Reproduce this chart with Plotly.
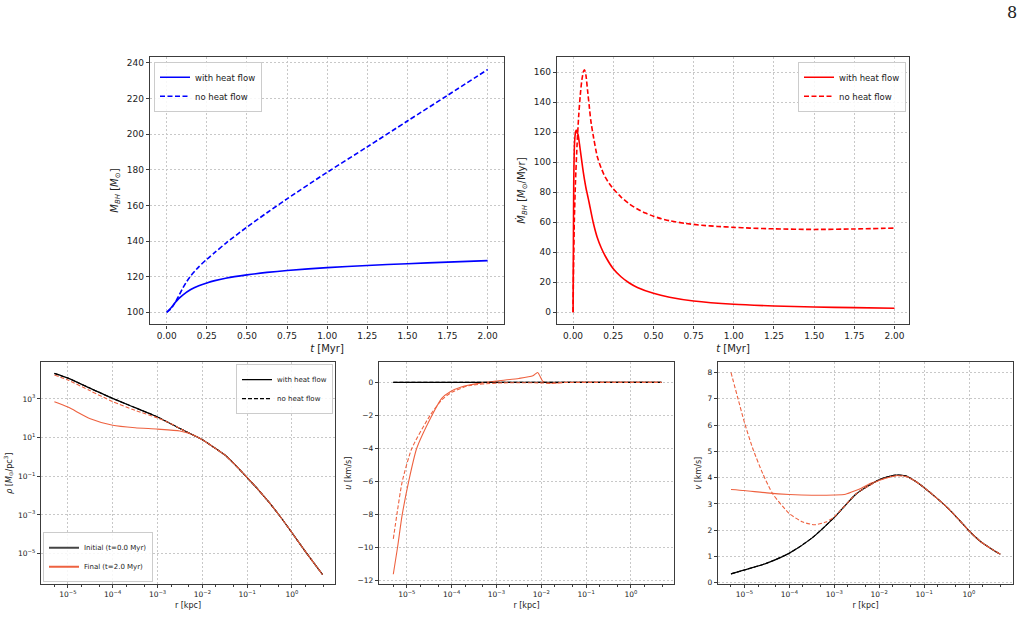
import plotly.graph_objects as go

# ---------------- data ----------------
# Top-left: black-hole mass vs time
t_m_heat = [0, 0.025, 0.05, 0.075, 0.1, 0.15, 0.2, 0.25, 0.3, 0.375, 0.5, 0.625, 0.75, 1.0, 1.25, 1.5, 1.75, 2.0]
mbh_heat = [100, 102.3, 105.2, 107.7, 109.7, 112.8, 114.9, 116.5, 117.8, 119.3, 121.0, 122.4, 123.5, 125.1,
            126.3, 127.3, 128.2, 129.0]
t_m_noheat = [0, 0.025, 0.05, 0.075, 0.1, 0.125, 0.15, 0.175, 0.2, 0.25, 0.3, 0.375, 0.5, 0.625, 0.75, 1.0,
              1.25, 1.5, 1.75, 2.0]
mbh_noheat = [100, 101.8, 105.0, 109.2, 113.5, 117.3, 120.5, 123.1, 125.5, 129.8, 133.6, 139.3, 147.8, 155.9,
              163.7, 178.6, 192.9, 207.4, 221.8, 236.3]

# Top-right: accretion rate vs time
t_md_heat = [0, 0.002, 0.004, 0.007, 0.011, 0.016, 0.021, 0.026, 0.031, 0.04, 0.05, 0.06, 0.07, 0.08, 0.09,
             0.1, 0.125, 0.15, 0.175, 0.2, 0.25, 0.3, 0.35, 0.4, 0.5, 0.6, 0.75, 1.0, 1.25, 1.5, 1.75, 2.0]
mdot_heat = [0, 45, 85, 106, 116, 120.5, 121.5, 119.5, 118.5, 112, 104, 96, 89, 83, 78,
             73, 60, 50, 43, 37.5, 29, 23.5, 19.5, 16.5, 12.6, 10.0, 7.5, 5.3, 4.2, 3.5, 3.1, 2.7]
t_md_noheat = [0, 0.003, 0.008, 0.015, 0.025, 0.035, 0.045, 0.055, 0.065, 0.072, 0.08, 0.09, 0.1, 0.11,
               0.125, 0.15, 0.175, 0.2, 0.225, 0.25, 0.3, 0.35, 0.4, 0.45, 0.5, 0.55, 0.6, 0.7, 0.8, 0.9,
               1.0, 1.1, 1.25, 1.5, 1.75, 2.0]
mdot_noheat = [0, 30, 62, 87, 112, 131, 145, 155, 160.5, 161.5, 158, 148, 138, 128,
               118, 104, 96, 90, 85.8, 82.2, 76.6, 72.2, 68.8, 66.1, 64.0, 62.3, 61.0, 59.2, 58.0, 57.2,
               56.6, 56.1, 55.6, 55.2, 55.5, 56.1]

# Bottom-left: density profiles
r_rho_init = [5.0e-6, 1e-5, 3.16e-5, 1e-4, 3.16e-4, 1e-3, 3.16e-3, 1e-2, 0.0251, 0.0316, 0.0562, 0.1,
              0.178, 0.316, 0.562, 1.0, 2.0, 4.8]
rho_init = [20900, 12000, 3550, 1070, 355, 117, 29.5, 7.76, 1.86, 1.29, 0.355, 0.0851,
            0.0200, 0.00417, 7.59e-4, 1.20e-4, 1.26e-5, 8.3e-7]
r_rho_heat = [5.0e-6, 1e-5, 3.16e-5, 1e-4, 3.16e-4, 1e-3, 3.16e-3, 6.3e-3, 1e-2, 0.0251, 0.0316, 0.0562, 0.1,
              0.178, 0.316, 0.562, 1.0, 2.0, 4.8]
rho_heat = [724, 380, 95.5, 43.7, 32.4, 27.5, 21.9, 13.8, 7.76, 1.86, 1.29, 0.355, 0.0851,
            0.0200, 0.00417, 7.59e-4, 1.20e-4, 1.26e-5, 8.3e-7]
r_rho_noheat = [5.0e-6, 1e-5, 3.16e-5, 1e-4, 3.16e-4, 1e-3, 1.78e-3, 3.16e-3, 1e-2, 0.0251, 0.0316, 0.0562, 0.1,
                0.178, 0.316, 0.562, 1.0, 2.0, 4.8]
rho_noheat = [17400, 9550, 2630, 724, 257, 105, 60.3, 29.5, 7.76, 1.86, 1.29, 0.355, 0.0851,
              0.0200, 0.00417, 7.59e-4, 1.20e-4, 1.26e-5, 8.3e-7]

# Bottom-middle: radial velocity u
r_u_init = [5.0e-6, 1e-4, 1e-2, 1.0, 4.8]
u_init = [0, 0, 0, 0, 0]
r_u_heat = [5.0e-6, 6.2e-6, 7.9e-6, 1.1e-5, 1.66e-5, 3.63e-5, 6.0e-5, 9.3e-5, 1.7e-4, 4.0e-4, 1e-3, 3.16e-3,
            6.5e-3, 8.3e-3, 1.07e-2, 1.29e-2, 2.0e-2, 3.16e-2, 1.0, 4.8]
u_heat = [-11.6, -10.0, -8.0, -6.0, -4.0, -2.0, -0.96, -0.56, -0.26, -0.06, 0.08, 0.24,
          0.40, 0.60, 0.08, -0.02, -0.03, 0, 0, 0]
r_u_noheat = [5.0e-6, 6.0e-6, 7.9e-6, 1.29e-5, 3.3e-5, 6.0e-5, 1e-4, 2.4e-4, 1e-3, 3.16e-3, 1e-2, 1.58e-2,
              3.16e-2, 1.0, 4.8]
u_noheat = [-9.46, -8.0, -6.0, -4.0, -2.0, -1.06, -0.6, -0.2, -0.04, -0.02, -0.03, -0.06,
            -0.01, 0, 0]

# Bottom-right: velocity dispersion v
r_v_init = [5.0e-6, 1e-5, 3.16e-5, 1e-4, 3.16e-4, 1e-3, 3.16e-3, 1e-2, 0.0178, 0.0251, 0.0398, 0.0631, 0.1,
            0.178, 0.316, 0.562, 1.0, 1.78, 3.16, 5.0]
v_init = [0.34, 0.49, 0.75, 1.13, 1.70, 2.49, 3.40, 3.92, 4.06, 4.10, 4.06, 3.87, 3.62,
          3.27, 2.89, 2.45, 1.98, 1.58, 1.29, 1.09]
r_v_heat = [5.0e-6, 1e-5, 3.16e-5, 1e-4, 3.16e-4, 1e-3, 1.78e-3, 3.0e-3, 4.0e-3, 6.3e-3, 1e-2, 0.0178, 0.0251,
            0.0398, 0.0631, 0.1, 0.178, 0.316, 0.562, 1.0, 1.78, 3.16, 5.0]
v_heat = [3.55, 3.51, 3.42, 3.36, 3.33, 3.34, 3.37, 3.51, 3.60, 3.78, 3.90, 4.04, 4.08,
          4.05, 3.87, 3.62, 3.27, 2.89, 2.45, 1.98, 1.58, 1.29, 1.09]
r_v_noheat = [5.0e-6, 7.1e-6, 1e-5, 1.55e-5, 2.57e-5, 4.27e-5, 1e-4, 2.0e-4, 3.63e-4, 6.46e-4, 1e-3, 3.16e-3,
              1e-2, 0.0178, 0.0251, 0.0398, 0.0631, 0.1, 0.178, 0.316, 0.562, 1.0, 1.78, 3.16, 5.0]
v_noheat = [8.0, 7.03, 6.09, 5.08, 4.14, 3.38, 2.63, 2.31, 2.21, 2.31, 2.51, 3.40,
            3.90, 4.03, 4.07, 4.04, 3.87, 3.62, 3.27, 2.89, 2.45, 1.98, 1.58, 1.29, 1.09]

log_tickvals = [1e-5, 1e-4, 1e-3, 1e-2, 1e-1, 1]
log_ticktext = ["10<sup>\u22125</sup>", "10<sup>\u22124</sup>", "10<sup>\u22123</sup>",
                "10<sup>\u22122</sup>", "10<sup>\u22121</sup>", "10<sup>0</sup>"]
rho_tickvals = [1e-5, 1e-3, 1e-1, 10, 1000]
rho_ticktext = ["10<sup>\u22125</sup>", "10<sup>\u22123</sup>", "10<sup>\u22121</sup>",
                "10<sup>1</sup>", "10<sup>3</sup>"]

# ---------------- styling ----------------
W, H = 1026, 617
FONT = "DejaVu Sans"
BLUE = "#0000ff"
RED = "#ff0000"
ORANGE = "#ee6240"
BLACK = "#000000"


def dom_x(a, b):
    return [a / W, b / W]


def dom_y(top, bottom):
    return [1 - bottom / H, 1 - top / H]


def ax_style(tick_size, **kw):
    d = dict(
        showline=True, mirror=True, linecolor="#3c3c3c", linewidth=1.3,
        ticks="outside", ticklen=3, tickwidth=1, tickcolor="#3c3c3c",
        showgrid=True, gridcolor="#c8c8c8", griddash="2px,2px", gridwidth=0.9,
        zeroline=False, tickfont=dict(family=FONT, size=tick_size, color="#222"),
    )
    d.update(kw)
    return d


fig = go.Figure()

# Top-left
fig.add_trace(go.Scatter(x=t_m_heat, y=mbh_heat, mode="lines", name="with heat flow",
                         line=dict(color=BLUE, width=1.6, shape="spline", smoothing=0.8),
                         xaxis="x", yaxis="y", legend="legend"))
fig.add_trace(go.Scatter(x=t_m_noheat, y=mbh_noheat, mode="lines", name="no heat flow",
                         line=dict(color=BLUE, width=1.6, dash="5px,2.5px", shape="spline", smoothing=0.8),
                         xaxis="x", yaxis="y", legend="legend"))
# Top-right
fig.add_trace(go.Scatter(x=t_md_heat, y=mdot_heat, mode="lines", name="with heat flow",
                         line=dict(color=RED, width=1.6, shape="spline", smoothing=0.6),
                         xaxis="x2", yaxis="y2", legend="legend2"))
fig.add_trace(go.Scatter(x=t_md_noheat, y=mdot_noheat, mode="lines", name="no heat flow",
                         line=dict(color=RED, width=1.6, dash="5px,2.5px", shape="spline", smoothing=0.6),
                         xaxis="x2", yaxis="y2", legend="legend2"))

# Bottom panels
panels = [
    ("x3", "y3", r_rho_init, rho_init, r_rho_heat, rho_heat, r_rho_noheat, rho_noheat),
    ("x4", "y4", r_u_init, u_init, r_u_heat, u_heat, r_u_noheat, u_noheat),
    ("x5", "y5", r_v_init, v_init, r_v_heat, v_heat, r_v_noheat, v_noheat),
]
for xa, ya, ri, vi, rh, vh, rn, vn in panels:
    fig.add_trace(go.Scatter(x=ri, y=vi, mode="lines", showlegend=False,
                             line=dict(color=BLACK, width=1.2, shape="spline", smoothing=0.6),
                             xaxis=xa, yaxis=ya))
    fig.add_trace(go.Scatter(x=rh, y=vh, mode="lines", showlegend=False,
                             line=dict(color=ORANGE, width=1.1, shape="spline", smoothing=0.6),
                             xaxis=xa, yaxis=ya))
    fig.add_trace(go.Scatter(x=ri, y=vi, mode="lines", showlegend=False,
                             line=dict(color=BLACK, width=1.1, dash="4px,2px", shape="spline", smoothing=0.6),
                             xaxis=xa, yaxis=ya))
    fig.add_trace(go.Scatter(x=rn, y=vn, mode="lines", showlegend=False,
                             line=dict(color=ORANGE, width=1.1, dash="4px,2px", shape="spline", smoothing=0.6),
                             xaxis=xa, yaxis=ya))

# legend-only entries for the density panel
fig.add_trace(go.Scatter(x=[None], y=[None], mode="lines", name="with heat flow",
                         line=dict(color=BLACK, width=1.3), xaxis="x3", yaxis="y3", legend="legend3"))
fig.add_trace(go.Scatter(x=[None], y=[None], mode="lines", name="no heat flow",
                         line=dict(color=BLACK, width=1.3, dash="4px,2px"), xaxis="x3", yaxis="y3", legend="legend3"))
fig.add_trace(go.Scatter(x=[None], y=[None], mode="lines", name="Initial (t=0.0 Myr)",
                         line=dict(color="#444444", width=2), xaxis="x3", yaxis="y3", legend="legend4"))
fig.add_trace(go.Scatter(x=[None], y=[None], mode="lines", name="Final (t=2.0 Myr)",
                         line=dict(color=ORANGE, width=2), xaxis="x3", yaxis="y3", legend="legend4"))

TOP_Y = dom_y(57, 326)
BOT_Y = dom_y(364, 587)
title_top = dict(family=FONT, size=10, color="#222")
title_bot = dict(family=FONT, size=8, color="#222")


def leg(x, y, xa, ya, size):
    return dict(x=x, y=y, xanchor=xa, yanchor=ya, bgcolor="rgba(255,255,255,0.85)",
                bordercolor="#cccccc", borderwidth=1, font=dict(family=FONT, size=size, color="#222"),
                itemwidth=30, tracegroupgap=0)


fig.update_layout(
    width=W, height=H, margin=dict(l=0, r=0, t=0, b=0),
    paper_bgcolor="white", plot_bgcolor="white",
    xaxis=ax_style(9, domain=dom_x(150, 504), anchor="y", range=[-0.104, 2.102],
                   tickmode="linear", tick0=0, dtick=0.25, tickformat=".2f",
                   title=dict(text="<i>t</i> [Myr]", font=title_top, standoff=4)),
    yaxis=ax_style(9, domain=TOP_Y, anchor="x", range=[93.2, 243.5], tickmode="linear", tick0=100, dtick=20,
                   title=dict(text="<i>M</i><sub><i>BH</i></sub> [<i>M</i><sub>\u2299</sub>]", font=title_top,
                              standoff=6)),
    xaxis2=ax_style(9, domain=dom_x(557, 909), anchor="y2", range=[-0.1, 2.09],
                    tickmode="linear", tick0=0, dtick=0.25, tickformat=".2f",
                    title=dict(text="<i>t</i> [Myr]", font=title_top, standoff=4)),
    yaxis2=ax_style(9, domain=TOP_Y, anchor="x2", range=[-8.1, 170.3], tickmode="linear", tick0=0, dtick=20,
                    title=dict(text="<i>\u1e40</i><sub><i>BH</i></sub> [<i>M</i><sub>\u2299</sub>/Myr]",
                               font=title_top, standoff=6)),
    xaxis3=ax_style(7.5, domain=dom_x(41, 335), anchor="y3", type="log", range=[-5.6, 0.96],
                    tickmode="array", tickvals=log_tickvals, ticktext=log_ticktext,
                    minor=dict(ticks="outside", ticklen=2, tickcolor="#3c3c3c", showgrid=False),
                    title=dict(text="r [kpc]", font=title_bot, standoff=4)),
    yaxis3=ax_style(7.5, domain=BOT_Y, anchor="x3", type="log", range=[-6.58, 4.9],
                    tickmode="array", tickvals=rho_tickvals, ticktext=rho_ticktext,
                    title=dict(text="<i>\u03c1</i> [<i>M</i><sub>\u2299</sub>/pc<sup>3</sup>]", font=title_bot,
                               standoff=4)),
    xaxis4=ax_style(7.5, domain=dom_x(379, 674), anchor="y4", type="log", range=[-5.62, 0.96],
                    tickmode="array", tickvals=log_tickvals, ticktext=log_ticktext,
                    minor=dict(ticks="outside", ticklen=2, tickcolor="#3c3c3c", showgrid=False),
                    title=dict(text="r [kpc]", font=title_bot, standoff=4)),
    yaxis4=ax_style(7.5, domain=BOT_Y, anchor="x4", range=[-12.2, 1.22], tickmode="linear", tick0=0, dtick=2,
                    title=dict(text="<i>u</i> [km/s]", font=title_bot, standoff=4)),
    xaxis5=ax_style(7.5, domain=dom_x(718, 1013), anchor="y5", type="log", range=[-5.59, 0.98],
                    tickmode="array", tickvals=log_tickvals, ticktext=log_ticktext,
                    minor=dict(ticks="outside", ticklen=2, tickcolor="#3c3c3c", showgrid=False),
                    title=dict(text="r [kpc]", font=title_bot, standoff=4)),
    yaxis5=ax_style(7.5, domain=BOT_Y, anchor="x5", range=[-0.05, 8.39], tickmode="linear", tick0=0, dtick=1,
                    title=dict(text="<i>v</i> [km/s]", font=title_bot, standoff=4)),
    legend=leg(154 / W, 1 - 62 / H, "left", "top", 8.5),
    legend2=leg(906 / W, 1 - 62 / H, "right", "top", 8.5),
    legend3=leg(333 / W, 1 - 366 / H, "right", "top", 7),
    legend4=leg(43 / W, 1 - 585 / H, "left", "bottom", 7),
    annotations=[dict(text="8", x=1012 / W, y=1 - 13 / H, xref="paper", yref="paper",
                      xanchor="center", yanchor="middle", showarrow=False,
                      font=dict(family="DejaVu Serif", size=16, color="#222"))],
)

fig.write_html("out.html")
